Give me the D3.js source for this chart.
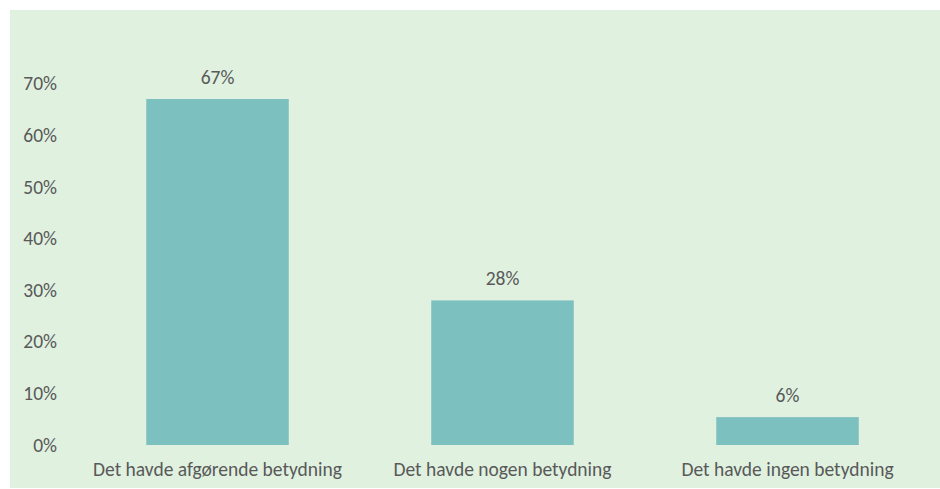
<!DOCTYPE html>
<html><head><meta charset="utf-8">
<script src="https://cdn.jsdelivr.net/npm/d3@7"></script>
<style>html,body{margin:0;padding:0;background:#fff;}svg{display:block;}</style>
</head><body>
<svg id="chart" width="940" height="489"></svg>
<script>
const categories = ["Det havde afgørende betydning", "Det havde nogen betydning", "Det havde ingen betydning"];
const values = [67, 28, 5.4];
const valueLabels = ["67%", "28%", "6%"];
const yTicks = [0, 10, 20, 30, 40, 50, 60, 70];

const svg = d3.select("#chart");
const font = "Carlito, Calibri, Lato, sans-serif";
const fs = "19.5px";
svg.append("rect").attr("x", 10).attr("y", 10).attr("width", 930).attr("height", 478).attr("fill", "#E0F1E0");

const x = d3.scaleBand().domain(categories).range([75, 930]).paddingInner(0.5).paddingOuter(0.25);
const y = d3.scaleLinear().domain([0, 70]).range([445, 83.5]);

const yAxis = svg.append("g").attr("transform", "translate(57,0)")
  .call(d3.axisLeft(y).tickValues(yTicks).tickFormat(d => d + "%").tickSize(0).tickPadding(0));
yAxis.select(".domain").remove();
yAxis.selectAll("text").attr("fill", "#595959").style("font-family", font).style("font-size", fs);

svg.selectAll("rect.bar").data(values).join("rect").attr("class", "bar")
  .attr("x", (d, i) => x(categories[i])).attr("width", x.bandwidth())
  .attr("y", d => y(d)).attr("height", d => y(0) - y(d)).attr("fill", "#7DC0C0");

svg.selectAll("text.val").data(values).join("text").attr("class", "val")
  .attr("x", (d, i) => x(categories[i]) + x.bandwidth() / 2)
  .attr("y", d => y(d) - 15).attr("text-anchor", "middle")
  .attr("fill", "#595959").style("font-family", font).style("font-size", fs)
  .text((d, i) => valueLabels[i]);

const xAxis = svg.append("g").attr("transform", "translate(0,445)")
  .call(d3.axisBottom(x).tickSize(0).tickPadding(17));
xAxis.select(".domain").remove();
xAxis.selectAll("text").attr("fill", "#595959").style("font-family", font).style("font-size", fs);
</script>
</body></html>
